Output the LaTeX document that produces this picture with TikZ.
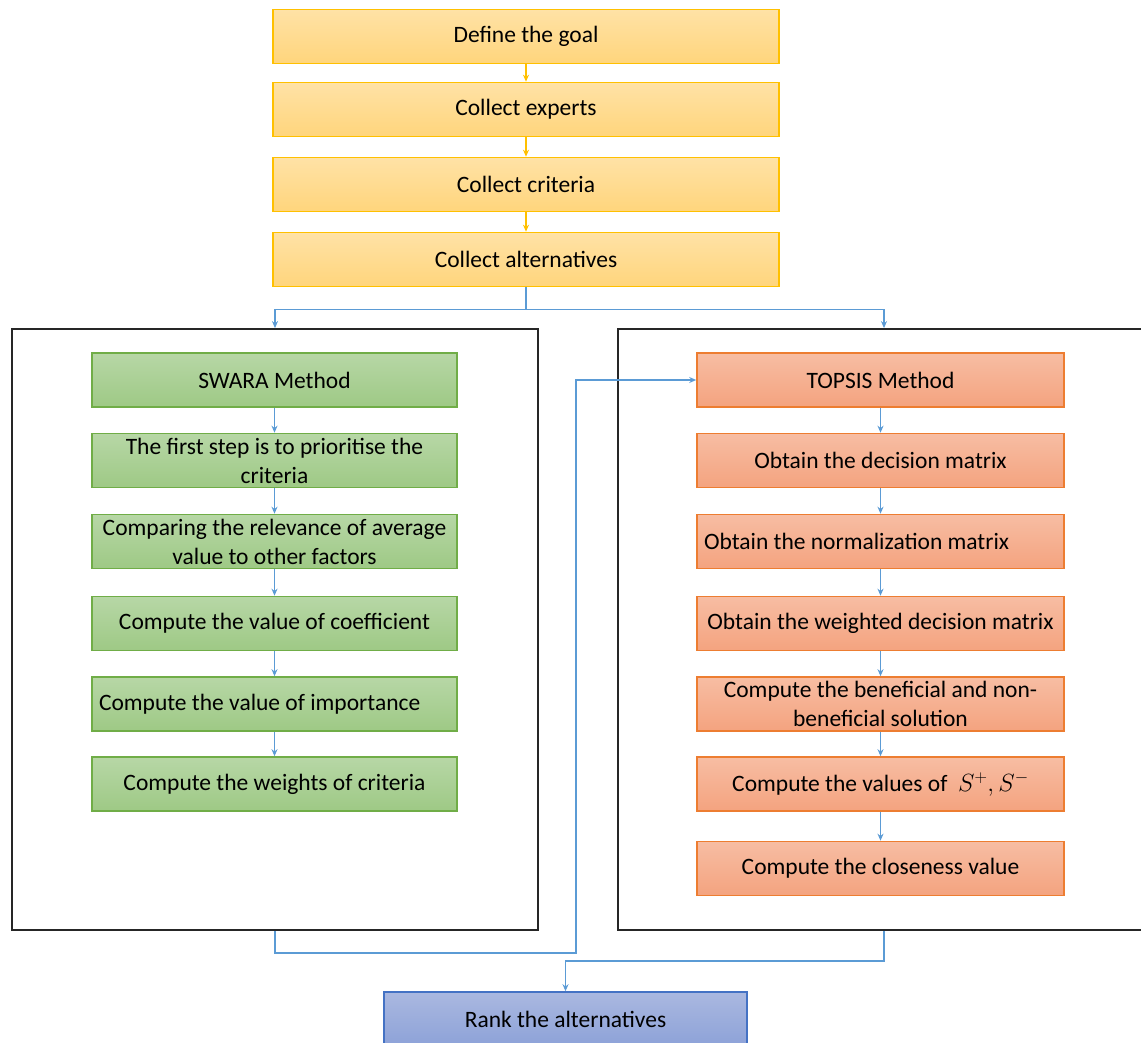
\documentclass[tikz,border=0pt]{standalone}
\usepackage{fontspec}
\setmainfont{Carlito}
\usetikzlibrary{arrows.meta,positioning,calc}
\definecolor{yelB}{HTML}{FFC000}
\definecolor{yelT}{HTML}{FFE2A6}
\definecolor{yelD}{HTML}{FFD57C}
\definecolor{grnB}{HTML}{70AD47}
\definecolor{grnT}{HTML}{B7D7A6}
\definecolor{grnD}{HTML}{9EC985}
\definecolor{orgB}{HTML}{ED7D31}
\definecolor{orgT}{HTML}{F7BDA3}
\definecolor{orgD}{HTML}{F4A37F}
\definecolor{bluB}{HTML}{4472C4}
\definecolor{bluT}{HTML}{AAB8E0}
\definecolor{bluD}{HTML}{8DA2D8}
\definecolor{lnk}{HTML}{5B9BD5}

\begin{document}
\begin{tikzpicture}[x=1pt,y=-1pt,>={Stealth[length=7pt,width=6pt]},
  base/.style={draw,line width=1.6pt,minimum width=365pt,minimum height=54pt,inner sep=2pt,
    font=\fontsize{23.5}{29}\selectfont,align=center},
  ybox/.style={base,draw=yelB,top color=yelT,bottom color=yelD,minimum width=506pt},
  gbox/.style={base,draw=grnB,top color=grnT,bottom color=grnD},
  obox/.style={base,draw=orgB,top color=orgT,bottom color=orgD,minimum width=367pt},
  bbox/.style={base,draw=bluB,top color=bluT,bottom color=bluD,minimum width=363pt},
  frame/.style={draw=black!85,line width=1.8pt,minimum width=526pt,minimum height=601pt},
  link/.style={->,draw=lnk,line width=1.6pt},
  ylink/.style={->,draw=yelB,line width=1.6pt}]
  \useasboundingbox (0,0) rectangle (1141,1043);
  \clip (0,0) rectangle (1141,1043);
  % preparation
  \node[ybox](goal) at (526,36.5){Define the goal};
  \node[ybox](exp) at (526,109.5){Collect experts};
  \node[ybox](crit) at (526,184.5){Collect criteria};
  \node[ybox](alt) at (526,259.5){Collect alternatives};
  \foreach \a/\b in {goal/exp,exp/crit,crit/alt}
    \draw[ylink] (\a) -- (\b);
  % the two method frames
  \node[frame](lframe) at (275,629.5){};
  \node[frame,minimum width=532pt](rframe) at (884,629.5){};
  \draw[link] (alt.south) -- ++(0,22) coordinate (split) -| (lframe.north);
  \draw[link] (split) -| (rframe.north);
  % SWARA
  \node[gbox](s0) at (274.5,380){SWARA Method};
  \node[gbox](s1) at (274.5,460.5){The first step is to prioritise the\\criteria};
  \node[gbox](s2) at (274.5,541.5){Comparing the relevance of average\\value to other factors};
  \node[gbox](s3) at (274.5,623.5){Compute the value of coefficient};
  \node[gbox,align=flush left,text width=351pt](s4) at (274.5,704){Compute the value of importance};
  \node[gbox](s5) at (274.5,784){Compute the weights of criteria};
  \foreach \a/\b in {s0/s1,s1/s2,s2/s3,s3/s4,s4/s5}
    \draw[link] (\a) -- (\b);
  % TOPSIS
  \node[obox](t0) at (880.5,380){TOPSIS Method};
  \node[obox](t1) at (880.5,460.5){Obtain the decision matrix};
  \node[obox,align=flush left,text width=353pt](t2) at (880.5,541.5){Obtain the normalization matrix};
  \node[obox](t3) at (880.5,623.5){Obtain the weighted decision matrix};
  \node[obox](t4) at (880.5,704){Compute the beneficial and non-\\beneficial solution};
  \node[obox](t5) at (880.5,784){Compute the values of \ $S^{+}, S^{-}$};
  \node[obox](t6) at (880.5,868.5){Compute the closeness value};
  \foreach \a/\b in {t0/t1,t1/t2,t2/t3,t3/t4,t4/t5,t5/t6}
    \draw[link] (\a) -- (\b);
  % ranking
  \node[bbox](rank) at (565.5,1019){Rank the alternatives};
  \draw[link] (lframe.south) -- ++(0,22) -| ([xshift=-120pt]t0.west) -- (t0.west);
  \draw[link] (rframe.south) -- ++(0,30) -| (rank.north);
\end{tikzpicture}
\end{document}
